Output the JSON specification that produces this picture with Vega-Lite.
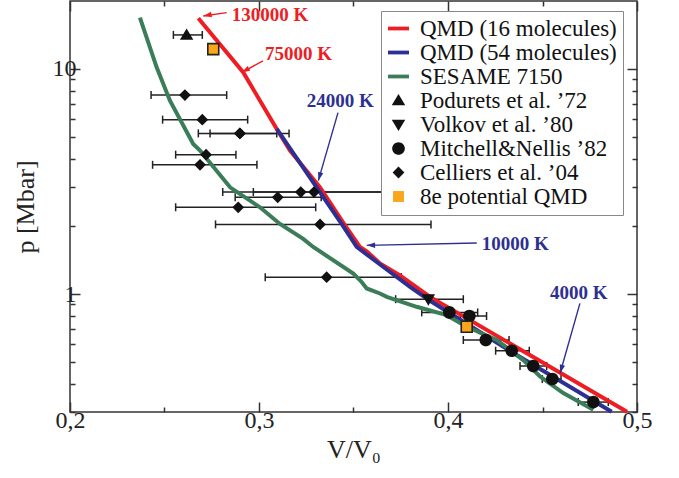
{
  "$schema": "https://vega.github.io/schema/vega-lite/v6.json",
  "width": 567,
  "height": 411,
  "autosize": {"type": "none"},
  "padding": {"left": 70, "top": 1, "right": 42, "bottom": 66},
  "config": {
    "view": {"stroke": "#333", "strokeWidth": 1.5},
    "font": "Liberation Serif",
    "axis": {"grid": false, "domain": false, "labelFont": "Liberation Serif", "titleFont": "Liberation Serif", "labelColor": "#222", "titleColor": "#222", "tickColor": "#333", "tickWidth": 1.5, "titleFontWeight": "normal"},
    "legend": {"labelFont": "Liberation Serif", "labelFontSize": 23, "labelColor": "#111", "labelLimit": 400, "labelOffset": 10, "rowPadding": 0, "symbolSize": 441, "padding": 6, "strokeColor": "#888", "fillColor": "white"}
  },
  "datasets": {
    "curves": [
      {"series": "QMD (16 molecules)", "V": 0.2679, "p": 16.76},
      {"series": "QMD (16 molecules)", "V": 0.2917, "p": 9.63},
      {"series": "QMD (16 molecules)", "V": 0.3094, "p": 5.41},
      {"series": "QMD (16 molecules)", "V": 0.3164, "p": 4.34},
      {"series": "QMD (16 molecules)", "V": 0.3323, "p": 2.98},
      {"series": "QMD (16 molecules)", "V": 0.3450, "p": 2.05},
      {"series": "QMD (16 molecules)", "V": 0.3534, "p": 1.62},
      {"series": "QMD (16 molecules)", "V": 0.3570, "p": 1.55},
      {"series": "QMD (16 molecules)", "V": 0.3640, "p": 1.37},
      {"series": "QMD (16 molecules)", "V": 0.3746, "p": 1.21},
      {"series": "QMD (16 molecules)", "V": 0.3905, "p": 0.973},
      {"series": "QMD (16 molecules)", "V": 0.4426, "p": 0.541},
      {"series": "QMD (16 molecules)", "V": 0.4947, "p": 0.301},
      {"series": "QMD (54 molecules)", "V": 0.3094, "p": 5.41},
      {"series": "QMD (54 molecules)", "V": 0.3305, "p": 2.98},
      {"series": "QMD (54 molecules)", "V": 0.3437, "p": 2.05},
      {"series": "QMD (54 molecules)", "V": 0.3517, "p": 1.62},
      {"series": "QMD (54 molecules)", "V": 0.3552, "p": 1.54},
      {"series": "QMD (54 molecules)", "V": 0.3658, "p": 1.32},
      {"series": "QMD (54 molecules)", "V": 0.3799, "p": 1.077},
      {"series": "QMD (54 molecules)", "V": 0.3905, "p": 0.935},
      {"series": "QMD (54 molecules)", "V": 0.4346, "p": 0.548},
      {"series": "QMD (54 molecules)", "V": 0.4866, "p": 0.301},
      {"series": "SESAME 7150", "V": 0.2370, "p": 16.87},
      {"series": "SESAME 7150", "V": 0.2459, "p": 10.13},
      {"series": "SESAME 7150", "V": 0.2529, "p": 7.22},
      {"series": "SESAME 7150", "V": 0.2652, "p": 4.64},
      {"series": "SESAME 7150", "V": 0.2688, "p": 4.34},
      {"series": "SESAME 7150", "V": 0.2847, "p": 2.98},
      {"series": "SESAME 7150", "V": 0.3005, "p": 2.43},
      {"series": "SESAME 7150", "V": 0.3111, "p": 2.05},
      {"series": "SESAME 7150", "V": 0.3234, "p": 1.76},
      {"series": "SESAME 7150", "V": 0.3287, "p": 1.62},
      {"series": "SESAME 7150", "V": 0.3499, "p": 1.235},
      {"series": "SESAME 7150", "V": 0.3543, "p": 1.133},
      {"series": "SESAME 7150", "V": 0.3570, "p": 1.06},
      {"series": "SESAME 7150", "V": 0.3640, "p": 1.007},
      {"series": "SESAME 7150", "V": 0.3676, "p": 0.973},
      {"series": "SESAME 7150", "V": 0.3834, "p": 0.879},
      {"series": "SESAME 7150", "V": 0.3993, "p": 0.807},
      {"series": "SESAME 7150", "V": 0.4099, "p": 0.717},
      {"series": "SESAME 7150", "V": 0.4258, "p": 0.626},
      {"series": "SESAME 7150", "V": 0.4398, "p": 0.51},
      {"series": "SESAME 7150", "V": 0.4487, "p": 0.431},
      {"series": "SESAME 7150", "V": 0.4610, "p": 0.364},
      {"series": "SESAME 7150", "V": 0.4769, "p": 0.307}
    ],
    "points": [
      {"series": "Podurets et al. ’72", "V": 0.2617, "p": 14.14, "lo": 0.2547, "hi": 0.2700},
      {"series": "Celliers et al. ’04", "V": 0.2608, "p": 7.65, "lo": 0.2429, "hi": 0.2829},
      {"series": "Celliers et al. ’04", "V": 0.2700, "p": 5.95, "lo": 0.2490, "hi": 0.2940},
      {"series": "Celliers et al. ’04", "V": 0.2899, "p": 5.17, "lo": 0.2679, "hi": 0.3159},
      {"series": "Celliers et al. ’04", "V": 0.2899, "p": 5.17, "lo": 0.2741, "hi": 0.3094},
      {"series": "Celliers et al. ’04", "V": 0.2720, "p": 4.16, "lo": 0.2559, "hi": 0.2878},
      {"series": "Celliers et al. ’04", "V": 0.2688, "p": 3.75, "lo": 0.2437, "hi": 0.2989},
      {"series": "Celliers et al. ’04", "V": 0.3221, "p": 2.84, "lo": 0.2808, "hi": 0.3680},
      {"series": "Celliers et al. ’04", "V": 0.3291, "p": 2.84, "lo": 0.2970, "hi": 0.3750},
      {"series": "Celliers et al. ’04", "V": 0.3099, "p": 2.69, "lo": 0.2874, "hi": 0.3329},
      {"series": "Celliers et al. ’04", "V": 0.2890, "p": 2.43, "lo": 0.2559, "hi": 0.3300},
      {"series": "Celliers et al. ’04", "V": 0.3323, "p": 2.04, "lo": 0.2770, "hi": 0.3910},
      {"series": "Celliers et al. ’04", "V": 0.3358, "p": 1.19, "lo": 0.3033, "hi": 0.3753},
      {"series": "Volkov et al. ’80", "V": 0.3896, "p": 0.95, "lo": 0.3723, "hi": 0.4081},
      {"series": "Mitchell&Nellis ’82", "V": 0.4007, "p": 0.83, "lo": 0.3861, "hi": 0.4157},
      {"series": "Mitchell&Nellis ’82", "V": 0.4113, "p": 0.80, "lo": 0.4065, "hi": 0.4204},
      {"series": "Mitchell&Nellis ’82", "V": 0.4200, "p": 0.626, "lo": 0.4081, "hi": 0.4323},
      {"series": "Mitchell&Nellis ’82", "V": 0.4337, "p": 0.561, "lo": 0.4252, "hi": 0.4430},
      {"series": "Mitchell&Nellis ’82", "V": 0.4451, "p": 0.48, "lo": 0.4381, "hi": 0.4522},
      {"series": "Mitchell&Nellis ’82", "V": 0.4552, "p": 0.42, "lo": 0.4499, "hi": 0.4598},
      {"series": "Mitchell&Nellis ’82", "V": 0.4769, "p": 0.332, "lo": 0.4689, "hi": 0.4848}
    ],
    "qmd8e": [
      {"series": "8e potential QMD", "V": 0.2758, "p": 12.23},
      {"series": "8e potential QMD", "V": 0.4099, "p": 0.717}
    ],
    "arrows": [
      {"series": "QMD (16 molecules)", "text": "130000 K", "tV": 0.2856, "tp": 17.34, "V1": 0.2829, "p1": 17.75, "V2": 0.2705, "p2": 17.16, "angle": 260},
      {"series": "QMD (16 molecules)", "text": "75000 K", "tV": 0.3032, "tp": 11.65, "V1": 0.3021, "p1": 10.85, "V2": 0.2908, "p2": 9.63, "angle": 241},
      {"series": "QMD (54 molecules)", "text": "24000 K", "tV": 0.3252, "tp": 7.22, "V1": 0.3418, "p1": 6.39, "V2": 0.3314, "p2": 3.19, "angle": 196},
      {"series": "QMD (54 molecules)", "text": "10000 K", "tV": 0.4178, "tp": 1.664, "V1": 0.4152, "p1": 1.687, "V2": 0.3570, "p2": 1.647, "angle": 269},
      {"series": "QMD (54 molecules)", "text": "4000 K", "tV": 0.4540, "tp": 1.01, "V1": 0.4698, "p1": 0.910, "V2": 0.4593, "p2": 0.446, "angle": 196}
    ]
  },
  "layer": [
    {
      "data": {"name": "points"},
      "mark": {"type": "rule", "color": "#222", "strokeWidth": 1.5},
      "encoding": {
        "x": {"field": "lo", "type": "quantitative", "scale": {"domain": [0.2, 0.5], "nice": false, "zero": false},
          "axis": {"orient": "top", "values": [0.2, 0.25, 0.3, 0.35, 0.4, 0.45, 0.5], "labels": false, "title": null,
            "tickSize": {"condition": {"test": "abs(round(datum.value*20)) % 2 == 0", "value": -10}, "value": -5}}},
        "x2": {"field": "hi"},
        "y": {"field": "p", "type": "quantitative", "scale": {"type": "log", "domain": [0.3, 20], "nice": false},
          "axis": {"orient": "right", "values": [0.3, 0.4, 0.5, 0.6, 0.7, 0.8, 0.9, 1, 2, 3, 4, 5, 6, 7, 8, 9, 10], "labels": false, "title": null,
            "tickSize": {"condition": {"test": "datum.value == 1 || datum.value == 10", "value": -10}, "value": -5}}}
      }
    },
    {
      "data": {"name": "points"},
      "mark": {"type": "point", "shape": "M0,-1V1", "filled": false, "stroke": "#222", "strokeWidth": 1.5, "size": 64, "opacity": 1},
      "encoding": {
        "x": {"field": "lo", "type": "quantitative", "axis": null},
        "y": {"field": "p", "type": "quantitative", "axis": null}
      }
    },
    {
      "data": {"name": "points"},
      "mark": {"type": "point", "shape": "M0,-1V1", "filled": false, "stroke": "#222", "strokeWidth": 1.5, "size": 64, "opacity": 1},
      "encoding": {
        "x": {"field": "hi", "type": "quantitative", "axis": null},
        "y": {"field": "p", "type": "quantitative", "axis": null}
      }
    },
    {
      "data": {"name": "curves"},
      "mark": {"type": "line", "strokeWidth": 4},
      "encoding": {
        "x": {"field": "V", "type": "quantitative", "title": "V/V₀",
          "axis": {"orient": "bottom", "values": [0.2, 0.25, 0.3, 0.35, 0.4, 0.45, 0.5], "labelFontSize": 24, "titleFontSize": 26, "labelFlush": false, "labelPadding": 6, "titlePadding": 4,
            "labelExpr": "abs(round(datum.value*20)) % 2 == 0 ? replace(format(datum.value, '.1f'), '.', ',') : ''",
            "tickSize": {"condition": {"test": "abs(round(datum.value*20)) % 2 == 0", "value": -10}, "value": -5}}},
        "y": {"field": "p", "type": "quantitative", "title": "p [Mbar]",
          "axis": {"orient": "left", "values": [0.3, 0.4, 0.5, 0.6, 0.7, 0.8, 0.9, 1, 2, 3, 4, 5, 6, 7, 8, 9, 10], "labelFontSize": 24, "titleFontSize": 26, "labelFlush": false, "labelPadding": 4, "titlePadding": 14,
            "labelExpr": "datum.value == 1 || datum.value == 10 ? format(datum.value, 'd') : ''",
            "tickSize": {"condition": {"test": "datum.value == 1 || datum.value == 10", "value": -10}, "value": -5}}},
        "stroke": {"field": "series", "type": "nominal", "legend": null,
          "scale": {"domain": ["QMD (16 molecules)", "QMD (54 molecules)", "SESAME 7150"], "range": ["#ee1d24", "#2d3092", "#3b7d59"]}}
      }
    },
    {
      "data": {"name": "points"},
      "mark": {"type": "point", "filled": true, "size": 441, "opacity": 1, "strokeWidth": 0},
      "encoding": {
        "x": {"field": "V", "type": "quantitative", "axis": null},
        "y": {"field": "p", "type": "quantitative", "axis": null},
        "color": {"field": "series", "type": "nominal",
          "scale": {"domain": ["QMD (16 molecules)", "QMD (54 molecules)", "SESAME 7150", "Podurets et al. ’72", "Volkov et al. ’80", "Mitchell&Nellis ’82", "Celliers et al. ’04", "8e potential QMD"],
            "range": ["#ee1d24", "#2d3092", "#3b7d59", "#111111", "#111111", "#111111", "#111111", "#f9a61a"]},
          "legend": {"title": null, "orient": "none", "legendX": 311, "legendY": 10, "strokeColor": "#888", "fillColor": "white", "padding": 6, "labelFont": "Liberation Serif", "labelFontSize": 23, "labelColor": "#111", "labelLimit": 400, "labelOffset": 10, "rowPadding": 0, "symbolSize": 441,
            "symbolStrokeWidth": 1.5, "symbolStrokeColor": {"expr": "datum.value === '8e potential QMD' ? '#222' : 'transparent'"}, "symbolOpacity": 1}},
        "shape": {"field": "series", "type": "nominal",
          "scale": {"domain": ["QMD (16 molecules)", "QMD (54 molecules)", "SESAME 7150", "Podurets et al. ’72", "Volkov et al. ’80", "Mitchell&Nellis ’82", "Celliers et al. ’04", "8e potential QMD"],
            "range": ["M-1,-0.18H1V0.18H-1Z", "M-1,-0.18H1V0.18H-1Z", "M-1,-0.18H1V0.18H-1Z", "M0,-0.62L0.64,0.46L-0.64,0.46Z", "M0,0.62L0.64,-0.46L-0.64,-0.46Z", "M0.6,0A0.6,0.6 0 1,1 -0.6,0A0.6,0.6 0 1,1 0.6,0Z", "M0,-0.56L0.56,0L0,0.56L-0.56,0Z", "M-0.52,-0.52H0.52V0.52H-0.52Z"]},
          "legend": {"title": null, "orient": "none", "legendX": 311, "legendY": 10, "strokeColor": "#888", "fillColor": "white", "padding": 6, "labelFont": "Liberation Serif", "labelFontSize": 23, "labelColor": "#111", "labelLimit": 400, "labelOffset": 10, "rowPadding": 0, "symbolSize": 441,
            "symbolStrokeWidth": 1.5, "symbolStrokeColor": {"expr": "datum.value === '8e potential QMD' ? '#222' : 'transparent'"}, "symbolOpacity": 1}}
      }
    },
    {
      "data": {"name": "qmd8e"},
      "mark": {"type": "point", "filled": true, "size": 441, "opacity": 1, "fill": "#f9a61a", "stroke": "#222", "strokeWidth": 1.6, "shape": "M-0.52,-0.52H0.52V0.52H-0.52Z"},
      "encoding": {
        "x": {"field": "V", "type": "quantitative", "axis": null},
        "y": {"field": "p", "type": "quantitative", "axis": null}
      }
    },
    {
      "data": {"name": "arrows"},
      "mark": {"type": "rule", "strokeWidth": 1.4},
      "encoding": {
        "x": {"field": "V1", "type": "quantitative", "axis": null},
        "y": {"field": "p1", "type": "quantitative", "axis": null},
        "x2": {"field": "V2"},
        "y2": {"field": "p2"},
        "stroke": {"field": "series", "type": "nominal", "legend": null}
      }
    },
    {
      "data": {"name": "arrows"},
      "mark": {"type": "point", "filled": true, "opacity": 1, "size": 144, "shape": "M0,0L-0.45,1.4L0.45,1.4Z", "strokeWidth": 0},
      "encoding": {
        "x": {"field": "V2", "type": "quantitative", "axis": null},
        "y": {"field": "p2", "type": "quantitative", "axis": null},
        "angle": {"field": "angle", "type": "quantitative", "scale": null},
        "fill": {"field": "series", "type": "nominal", "legend": null,
          "scale": {"domain": ["QMD (16 molecules)", "QMD (54 molecules)"], "range": ["#ee1d24", "#2d3092"]}}
      }
    },
    {
      "data": {"name": "arrows"},
      "mark": {"type": "text", "font": "Liberation Serif", "fontWeight": "bold", "fontSize": 19, "align": "left", "baseline": "middle"},
      "encoding": {
        "x": {"field": "tV", "type": "quantitative", "axis": null},
        "y": {"field": "tp", "type": "quantitative", "axis": null},
        "text": {"field": "text"},
        "fill": {"field": "series", "type": "nominal", "legend": null}
      }
    }
  ]
}
